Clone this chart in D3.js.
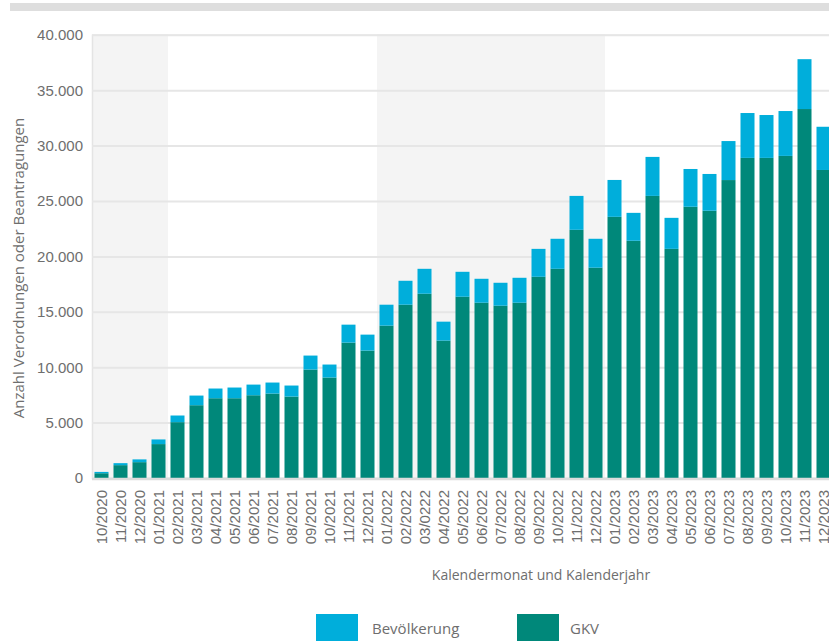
<!DOCTYPE html>
<html>
<head>
<meta charset="utf-8">
<script src="https://cdn.jsdelivr.net/npm/d3@7/dist/d3.min.js"></script>
<style>
  html, body { margin: 0; padding: 0; background: #fff; }
  svg { display: block; font-family: "Open Sans", "Noto Sans", sans-serif; }
</style>
</head>
<body>
<svg id="chart" width="829" height="641"></svg>
<script>
const months = ["10/2020","11/2020","12/2020","01/2021","02/2021","03/2021","04/2021","05/2021","06/2021","07/2021","08/2021","09/2021","10/2021","11/2021","12/2021","01/2022","02/2022","03/0222","04/2022","05/2022","06/2022","07/2022","08/2022","09/2022","10/2022","11/2022","12/2022","01/2023","02/2023","03/2023","04/2023","05/2023","06/2023","07/2023","08/2023","09/2023","10/2023","11/2023","12/2023"];
const gkv = [430,1160,1430,3060,5040,6570,7200,7200,7470,7620,7350,9790,9070,12220,11500,13750,15640,16630,12400,16360,15820,15550,15820,18160,18880,22400,18980,23570,21410,25460,20680,24480,24120,26890,28890,28890,29070,33300,27800];
const bevoelkerung = [120,180,250,420,600,870,875,965,960,995,995,1260,1170,1620,1440,1890,2160,2250,1710,2250,2160,2070,2250,2520,2710,3060,2610,3330,2520,3520,2800,3410,3320,3520,4050,3870,4050,4500,3900];
const yTicks = [0,5000,10000,15000,20000,25000,30000,35000,40000];
const shadedYears = [["10/2020","01/2021"],["01/2022","12/2022"]];
const seriesNames = ["Bevölkerung","GKV"];
const colors = {"Bevölkerung":"#00aedb","GKV":"#00887a"};

const svg = d3.select("#chart");
const W = 829;
const plotLeft = 92, plotTop = 34.8, plotBottom = 478;

const x = d3.scaleBand().domain(months).range([92, 92 + 39*19]).paddingInner(5/19).paddingOuter(2.5/19);
const y = d3.scaleLinear().domain([0, 40000]).range([plotBottom, plotTop]);
const fmt = v => d3.format(",")(v).replace(/,/g, ".");

// top grey bar
svg.append("rect").attr("x", 10).attr("y", 3).attr("width", W - 10).attr("height", 8).attr("fill", "#dedede");

// shaded bands
const step = x.step();
shadedYears.forEach(([a, b]) => {
  const i0 = months.indexOf(a), i1 = months.indexOf(b);
  svg.append("rect")
    .attr("x", 92 + i0*step).attr("y", plotTop)
    .attr("width", (i1 - i0 + 1)*step).attr("height", plotBottom - plotTop)
    .attr("fill", "#f4f4f4");
});

// gridlines
const yAxis = d3.axisLeft(y).tickValues(yTicks).tickSize(-(W - plotLeft)).tickFormat(fmt).tickPadding(9);
const gy = svg.append("g").attr("transform", `translate(${plotLeft},0)`).call(yAxis);
gy.select(".domain").attr("stroke", "#e4e4e4").attr("stroke-width", 1.5);
gy.selectAll(".tick line").attr("stroke", "#e6e6e6").attr("stroke-width", 2);
gy.selectAll(".tick text").attr("fill", "#6e6e6e").attr("font-size", 15).attr("x", -9);

// stacked bars
const data = months.map((m, i) => ({m, GKV: gkv[i], "Bevölkerung": bevoelkerung[i]}));
const stack = d3.stack().keys(["GKV","Bevölkerung"])(data);
svg.append("g").selectAll("g").data(stack).join("g")
  .attr("fill", d => colors[d.key])
  .selectAll("rect").data(d => d).join("rect")
  .attr("x", d => x(d.data.m))
  .attr("width", x.bandwidth())
  .attr("y", d => y(d[1]))
  .attr("height", d => y(d[0]) - y(d[1]));

// x axis
const xAxis = d3.axisBottom(x).tickSize(0).tickPadding(0);
const gx = svg.append("g").attr("transform", `translate(0,${plotBottom})`).call(xAxis);
gx.select(".domain").remove();
svg.append("line").attr("x1", plotLeft).attr("x2", W).attr("y1", 479).attr("y2", 479)
  .attr("stroke", "#dcdcdc").attr("stroke-width", 2.5);
gx.selectAll(".tick text")
  .attr("fill", "#6e6e6e").attr("font-size", 15)
  .attr("text-anchor", "end")
  .attr("transform", "translate(0,12) rotate(-90)")
  .attr("x", 0).attr("y", 0).attr("dy", "0.35em");

// axis titles
svg.append("text").attr("x", 541).attr("y", 580).attr("text-anchor", "middle")
  .attr("fill", "#6e6e6e").attr("font-size", 14).text("Kalendermonat und Kalenderjahr");
svg.append("text").attr("transform", "translate(19,268) rotate(-90)").attr("text-anchor", "middle")
  .attr("dy", "0.35em").attr("fill", "#6e6e6e").attr("font-size", 15).text("Anzahl Verordnungen oder Beantragungen");

// legend
const legendItems = [{name: seriesNames[0], x: 316, tx: 372}, {name: seriesNames[1], x: 517, tx: 570}];
legendItems.forEach(it => {
  svg.append("rect").attr("x", it.x).attr("y", 614).attr("width", 42).attr("height", 27).attr("fill", colors[it.name]);
  svg.append("text").attr("x", it.tx).attr("y", 634).attr("fill", "#6e6e6e").attr("font-size", 15).text(it.name);
});
</script>
</body>
</html>
